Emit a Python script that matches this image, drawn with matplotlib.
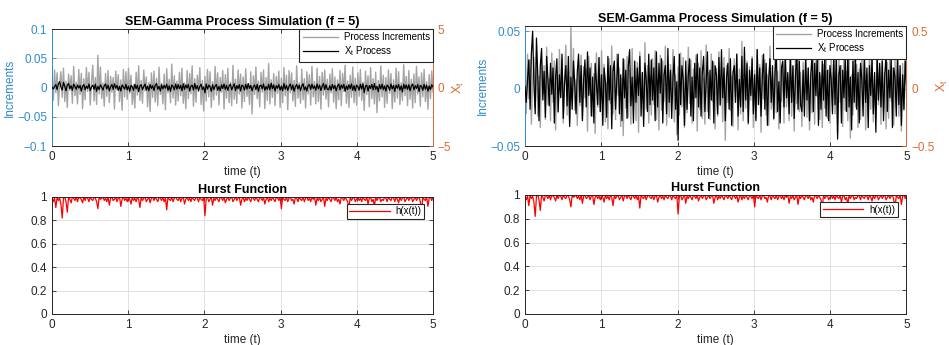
import numpy as np
import matplotlib
matplotlib.use('Agg')
import matplotlib.pyplot as plt
from matplotlib.ticker import FuncFormatter

plt.rcParams['font.family'] = ['Liberation Sans', 'DejaVu Sans']
plt.rcParams['mathtext.fontset'] = 'custom'
plt.rcParams['mathtext.rm'] = 'Liberation Sans'
plt.rcParams['mathtext.default'] = 'regular'

# process increments (x 1e-3)
increments = [
    14, -22, 30, -9, 25, -31, 6, 27, -17, 33, -24, 11, -34, 23, -5, 20, -27, 36, -14, 9,
    -28, 31, -12, 24, -36, 15, -21, 34, -7, 26, -30, 10, 38, -23, 17, -29, 55, -11, 35, -19,
    8, -32, 24, -15, 29, -26, 19, -8, 17, -37, 28, -4, 22, -24, 13, -39, 31, -16, 27, -20,
    33, -10, 21, -29, 5, -35, 26, -13, 37, -22, 12, -27, 30, -6, 18, -33, 9, -41, 25, -17,
    28, -25, 16, -31, 35, -12, 7, -28, 23, -38, 32, -9, 14, -26, 40, -18, 20, -30, 11, -23,
    26, -14, 33, -27, 8, -36, 29, -19, 24, -11, 37, -32, 15, -25, 21, -7, 34, -29, 12, -40,
    19, -23, 31, -16, 27, -34, 10, -21, 36, -13, 25, -30, 17, -8, 29, -37, 22, -18, 33, -26,
    9, -31, 38, -20, 14, -27, 30, -11, 23, -35, 18, -24, 32, -15, 6, -29, 27, -45, 20, -12,
    35, -19, 11, -33, 26, -8, 30, -36, 17, -22, 41, -28, 13, -17, 24, -31, 19, -10, 28, -34,
    16, -26, 34, -14, 21, -38, 29, -9, 25, -23, 12, -32, 37, -18, 8, -27, 31, -21, 15, -35,
    27, -11, 22, -30, 36, -16, 10, -28, 33, -24, 19, -37, 26, -13, 30, -20, 14, -33, 23, -9,
    32, -25, 18, -36, 13, -21, 29, -31, 24, -7, 38, -27, 11, -34, 21, -17, 35, -26, 16, -30,
    25, -15, 31, -22, 9, -39, 28, -12, 20, -33, 34, -19, 15, -28, 26, -43, 12, -23, 37, -16,
    21, -34, 17, -27, 30, -10, 24, -36, 13, -25, 33, -18, 27, -29, 8, -22, 39, -14, 19, -31,
    29, -20, 14, -35, 23, -26, 36, -11, 18, -32, 25, -16, 31, -24, 10, -37, 22, -19, 28, -8,
]

# X_t process (x 1e-2)
xt_process = [
    2, -12, 8, 25, -18, 30, 50, 5, -22, 44, 12, -28, 20, 35, -10, 15, -25, 28, 8, -15,
    22, -5, 18, -30, 10, 26, -20, 12, -8, 30, -26, 5, 20, -15, 28, -33, 10, -18, 24, 3,
    -22, 15, 30, -12, 20, -28, 8, 25, -16, 32, -6, 18, -24, 10, -30, 22, 5, -14, 27, -20,
    12, -32, 18, 6, -25, 28, -10, 20, -35, 15, 24, -18, 8, 30, -22, 12, -28, 26, -8, 16,
    -26, 20, 34, -15, 10, -30, 24, -12, 18, -6, 28, -24, 14, -33, 22, 8, -20, 30, -14, 25,
    -10, 18, -28, 32, -16, 22, -4, 26, -30, 12, 20, -22, 35, -12, 16, -26, 10, 28, -18, 6,
    -45, 30, -14, 20, 8, -32, 24, -18, 12, 26, -24, 10, -28, 22, -8, 30, -16, 18, -24, 14,
    28, -20, 6, 32, -26, 16, -10, 24, -30, 20, 12, -22, 27, -14, 34, -8, 18, -28, 10, 22,
    -18, 26, -32, 14, 20, -12, 30, -24, 8, -16, 28, -20, 36, -10, 22, -30, 16, -6, 26, -22,
    12, -28, 34, -14, 18, -24, 10, 30, -18, 22, -32, 8, 26, -12, 20, -26, 14, 32, -20, 6,
    -30, 18, 24, -16, 28, -8, 14, -22, 30, -12, 20, -26, 10, 34, -18, 24, -14, -20, 16, -24,
    26, -10, 18, -28, 12, 30, -20, 22, -6, 28, -32, 14, -18, 24, -10, 30, -24, 16, -28, 20,
    8, -22, 28, -14, 32, -44, 12, 20, -30, 16, -8, 26, -20, 34, -16, 10, -36, 24, -12, 28,
    -18, 14, -30, 22, 8, -24, 30, -12, 18, -34, 20, -6, 26, -22, 14, -38, 28, -10, 22, -16,
    24, -28, 12, 30, -20, 16, -8, 26, -34, 18, 10, -24, 28, -14, 20, -32, 12, -18, 24, 4,
]

# Hurst function h(x(t)) (x 1e-2)
hurst = [
    100, 96, 99, 91, 100, 97, 99, 94, 82, 99, 100, 96, 87, 100, 98, 95, 100, 99, 97, 100,
    96, 100, 99, 98, 95, 100, 97, 100, 99, 96, 100, 98, 97, 100, 99, 96, 90, 100, 98, 99,
    100, 97, 99, 96, 100, 93, 99, 100, 97, 98, 100, 96, 99, 100, 92, 98, 100, 97, 99, 96,
    100, 98, 94, 100, 97, 99, 96, 100, 98, 91, 100, 97, 99, 100, 96, 98, 100, 95, 99, 100,
    97, 100, 98, 96, 100, 99, 97, 100, 96, 99, 89, 100, 98, 97, 100, 96, 99, 100, 98, 97,
    100, 96, 99, 100, 94, 98, 100, 97, 99, 96, 100, 98, 97, 100, 99, 96, 100, 98, 97, 100,
    84, 99, 100, 96, 98, 100, 93, 99, 97, 100, 98, 96, 100, 99, 97, 100, 95, 98, 100, 97,
    99, 100, 96, 98, 100, 97, 99, 100, 93, 98, 100, 96, 99, 97, 100, 98, 96, 100, 99, 97,
    100, 98, 96, 100, 99, 97, 100, 94, 98, 100, 96, 99, 97, 100, 98, 96, 100, 99, 97, 100,
    90, 100, 98, 97, 100, 96, 99, 100, 97, 98, 94, 100, 99, 96, 100, 98, 97, 100, 96, 99,
    100, 97, 99, 96, 100, 98, 100, 93, 99, 97, 100, 96, 98, 100, 92, 99, 97, 100, 98, 96,
    100, 99, 97, 100, 96, 98, 94, 100, 99, 97, 100, 98, 96, 90, 100, 97, 99, 100, 96, 98,
    100, 97, 99, 96, 100, 98, 97, 100, 94, 99, 100, 96, 98, 92, 100, 97, 99, 100, 96, 98,
    97, 100, 99, 96, 100, 98, 97, 100, 99, 96, 100, 98, 95, 100, 97, 99, 100, 96, 98, 100,
    97, 99, 100, 96, 98, 100, 97, 99, 100, 96, 88, 100, 98, 97, 100, 92, 99, 100, 97, 100,
]

inc = np.array(increments) * 1e-3
xt = np.array(xt_process) * 1e-2
h = np.array(hurst) * 1e-2
t = np.linspace(0, 5, len(inc))

BLUE = '#2f8ccc'
ORANGE = '#dd6a35'
GRAY = '#a4a4a4'
DARK = '#262626'
GRID = '#dcdcdc'


def fmt(v, _):
    return f'{v:g}'.replace('-', '\u2212')


def base_style(ax):
    ax.set_xlim(0, 5)
    ax.set_xticks(range(6))
    ax.xaxis.set_major_formatter(FuncFormatter(fmt))
    ax.yaxis.set_major_formatter(FuncFormatter(fmt))
    ax.grid(True, color=GRID, lw=0.6)
    ax.set_axisbelow(True)
    ax.tick_params(axis='x', direction='in', top=True, labelsize=8.5,
                   colors=DARK, length=3, width=0.6)
    for s in ax.spines.values():
        s.set_linewidth(0.7)
        s.set_color(DARK)
    ax.set_xlabel('time (t)', fontsize=8.5, color=DARK, labelpad=2)


def top_panel(ax, ylim, yticks, rlim, rticks):
    base_style(ax)
    ax.set_ylim(*ylim)
    ax.set_yticks(yticks)
    l1, = ax.plot(t, inc, color=GRAY, lw=1.0)
    ax.tick_params(axis='y', direction='in', colors=BLUE, labelsize=8.5,
                   length=3, width=0.6)
    ax.spines['left'].set_color(BLUE)
    ax.set_ylabel('Increments', color=BLUE, fontsize=8.5, labelpad=1)
    ax.set_title('SEM-Gamma Process Simulation (f = 5)', fontsize=9,
                 fontweight='bold', pad=3)

    axr = ax.twinx()
    l2, = axr.plot(t, xt, color='black', lw=0.9)
    axr.set_ylim(*rlim)
    axr.set_yticks(rticks)
    axr.yaxis.set_major_formatter(FuncFormatter(fmt))
    axr.tick_params(axis='y', direction='in', colors=ORANGE, labelsize=8.5,
                    length=3, width=0.6)
    for s in axr.spines.values():
        s.set_visible(False)
    axr.spines['right'].set_visible(True)
    axr.spines['right'].set_color(ORANGE)
    axr.spines['right'].set_linewidth(0.7)
    axr.set_ylabel('$X_t$', color=ORANGE, fontsize=9, rotation=90, labelpad=0)
    axr.legend([l1, l2], ['Process Increments', '$X_t$ Process'],
               loc='upper right', bbox_to_anchor=(1, 1), borderaxespad=0,
               fancybox=False, edgecolor=DARK, framealpha=1, fontsize=7,
               handlelength=3.6, borderpad=0.35, labelspacing=0.2,
               handletextpad=0.6).get_frame().set_linewidth(0.8)


def hurst_panel(ax):
    base_style(ax)
    ax.plot(t, h, color='red', lw=0.9, label='h(x(t))')
    ax.set_ylim(0, 1)
    ax.set_yticks([0, 0.2, 0.4, 0.6, 0.8, 1])
    ax.tick_params(axis='y', direction='in', right=True, colors=DARK,
                   labelsize=8.5, length=3, width=0.6)
    ax.set_title('Hurst Function', fontsize=9, fontweight='bold', pad=3)
    leg = ax.legend(loc='upper right', bbox_to_anchor=(0.977, 0.94),
                    borderaxespad=0, fancybox=False, edgecolor=DARK,
                    framealpha=1, fontsize=7, handlelength=4.2, borderpad=0.25,
                    handletextpad=0.6)
    leg.get_frame().set_linewidth(0.8)


fig = plt.figure(figsize=(9.49, 3.45), dpi=100)

ax1 = fig.add_axes([0.0548, 0.5768, 0.4015, 0.3391])
top_panel(ax1, (-0.1, 0.1), [-0.1, -0.05, 0, 0.05, 0.1], (-5, 5), [-5, 0, 5])

ax2 = fig.add_axes([0.5532, 0.5768, 0.4020, 0.3478])
top_panel(ax2, (-0.05, 0.0545), [-0.05, 0, 0.05], (-0.5, 0.545), [-0.5, 0, 0.5])

ax3 = fig.add_axes([0.0548, 0.0899, 0.4015, 0.3391])
hurst_panel(ax3)

ax4 = fig.add_axes([0.5532, 0.0899, 0.4020, 0.3449])
hurst_panel(ax4)

fig.savefig('out.png', dpi=100)
